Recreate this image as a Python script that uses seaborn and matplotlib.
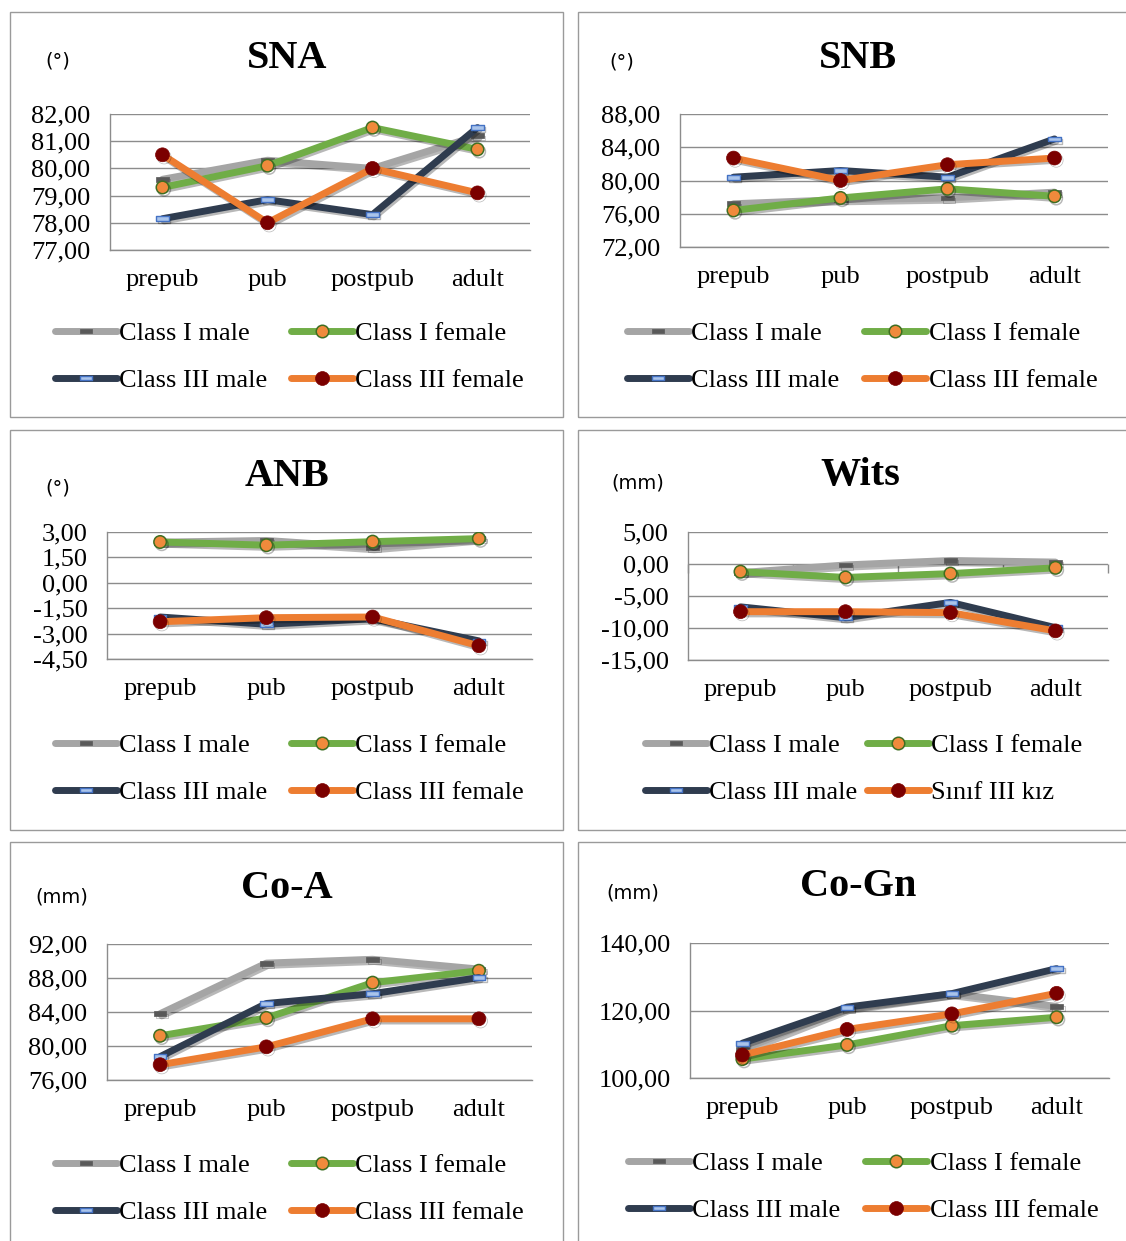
import matplotlib
matplotlib.use("Agg")
import matplotlib.pyplot as plt
import matplotlib.patheffects as pe
from matplotlib.lines import Line2D
from matplotlib.patches import Rectangle
from matplotlib.ticker import FuncFormatter
import seaborn as sns
import pandas as pd

# ---- data -------------------------------------------------------------
stages = ["prepub", "pub", "postpub", "adult"]
labels = ["Class I male", "Class I female", "Class III male", "Class III female"]
labels_wits = ["Class I male", "Class I female", "Class III male", "Sınıf III kız"]

sna_c1_male = [79.6, 80.3, 80.0, 81.2]
sna_c1_female = [79.3, 80.1, 81.5, 80.7]
sna_c3_male = [78.15, 78.85, 78.3, 81.5]
sna_c3_female = [80.5, 78.0, 80.0, 79.1]
sna_ticks = [77, 78, 79, 80, 81, 82]

snb_c1_male = [77.2, 77.7, 77.9, 78.6]
snb_c1_female = [76.4, 77.9, 79.0, 78.1]
snb_c3_male = [80.4, 81.2, 80.4, 85.0]
snb_c3_female = [82.7, 80.0, 81.9, 82.7]
snb_ticks = [72, 76, 80, 84, 88]

anb_c1_male = [2.40, 2.50, 2.08, 2.60]
anb_c1_female = [2.41, 2.22, 2.43, 2.61]
anb_c3_male = [-2.02, -2.45, -2.12, -3.43]
anb_c3_female = [-2.30, -2.06, -2.02, -3.72]
anb_ticks = [-4.5, -3.0, -1.5, 0.0, 1.5, 3.0]

wits_c1_male = [-1.35, -0.15, 0.55, 0.3]
wits_c1_female = [-1.2, -2.1, -1.5, -0.6]
wits_c3_male = [-6.7, -8.4, -6.0, -9.95]
wits_c3_female = [-7.45, -7.45, -7.6, -10.45]
wits_ticks = [-15, -10, -5, 0, 5]

coa_c1_male = [83.8, 89.75, 90.2, 89.05]
coa_c1_female = [81.2, 83.3, 87.45, 88.85]
coa_c3_male = [78.75, 85.0, 86.15, 88.05]
coa_c3_female = [77.8, 79.9, 83.2, 83.2]
coa_ticks = [76, 80, 84, 88, 92]

cogn_c1_male = [108.5, 120.6, 125.0, 121.2]
cogn_c1_female = [105.6, 109.8, 115.5, 118.0]
cogn_c3_male = [110.3, 121.0, 125.0, 132.4]
cogn_c3_female = [106.8, 114.4, 119.0, 125.1]
cogn_ticks = [100, 120, 140]

# ---- styling ----------------------------------------------------------
W, H = 1126, 1241
sns.set_theme(style="white")
plt.rcParams["font.family"] = ["Liberation Serif", "DejaVu Serif"]
plt.rcParams["text.color"] = "black"
plt.rcParams["xtick.labelcolor"] = "black"
plt.rcParams["ytick.labelcolor"] = "black"

GRID = "#8c8c8c"
BOX = "#9a9a9a"
rect_marker = [(-1, -0.38), (1, -0.38), (1, 0.38), (-1, 0.38), (-1, -0.38)]

series_style = [
    dict(color="#a5a5a5", marker=rect_marker, ms=9, mfc="#595959", mec="#595959", mew=0.5),
    dict(color="#70ad47", marker="o", ms=9, mfc="#f08a3c", mec="#3f6e22", mew=1.1),
    dict(color="#2f3c4f", marker=rect_marker, ms=9, mfc="#a9c4eb", mec="#4472c4", mew=1.0),
    dict(color="#ed7d31", marker="o", ms=10, mfc="#7b0000", mec="#7b0000", mew=0.5),
]

shadow = [pe.SimpleLineShadow(offset=(1.2, -1.6), shadow_color="black", alpha=0.28),
          pe.Normal()]

panels = [
    dict(title="SNA", unit="(°)", data=[sna_c1_male, sna_c1_female, sna_c3_male, sna_c3_female],
         ticks=sna_ticks, names=labels, box=(10, 12, 563, 417), plot=(110, 114, 530, 250),
         tpos=(287, 58), upos=(58, 61), leg=(55, 322), colsp=0.9, xticks="bottom"),
    dict(title="SNB", unit="(°)", data=[snb_c1_male, snb_c1_female, snb_c3_male, snb_c3_female],
         ticks=snb_ticks, names=labels, box=(578, 12, 1130, 417), plot=(680, 114, 1108, 247),
         tpos=(858, 58), upos=(622, 62), leg=(627, 322), colsp=0.95, xticks=None),
    dict(title="ANB", unit="(°)", data=[anb_c1_male, anb_c1_female, anb_c3_male, anb_c3_female],
         ticks=anb_ticks, names=labels, box=(10, 430, 563, 830), plot=(107, 532, 532, 659),
         tpos=(287, 476), upos=(58, 488), leg=(55, 734), colsp=0.9, xticks=None),
    dict(title="Wits", unit="(mm)", data=[wits_c1_male, wits_c1_female, wits_c3_male, wits_c3_female],
         ticks=wits_ticks, names=labels_wits, box=(578, 430, 1130, 830), plot=(688, 532, 1108, 660),
         tpos=(860, 476), upos=(638, 483), leg=(645, 734), colsp=0.35, xticks="zero"),
    dict(title="Co-A", unit="(mm)", data=[coa_c1_male, coa_c1_female, coa_c3_male, coa_c3_female],
         ticks=coa_ticks, names=labels, box=(10, 842, 563, 1250), plot=(107, 944, 532, 1080),
         tpos=(287, 888), upos=(62, 897), leg=(55, 1154), colsp=0.9, xticks="bottom"),
    dict(title="Co-Gn", unit="(mm)", data=[cogn_c1_male, cogn_c1_female, cogn_c3_male, cogn_c3_female],
         ticks=cogn_ticks, names=labels, box=(578, 842, 1130, 1250), plot=(690, 943, 1109, 1078),
         tpos=(858, 887), upos=(633, 893), leg=(628, 1152), colsp=0.95, xticks="bottom"),
]


def fx(x):
    return x / W


def fy(y):
    return 1 - y / H


def comma(v, _pos=None):
    return f"{v:.2f}".replace(".", ",")


fig = plt.figure(figsize=(W / 100, H / 100), dpi=100)
fig.patch.set_facecolor("white")

edges = [-0.5, 0.5, 1.5, 2.5, 3.5]

for p in panels:
    x0, y0, x1, y1 = p["box"]
    fig.patches.append(Rectangle((fx(x0), fy(y1)), fx(x1 - x0), (y1 - y0) / H,
                                 transform=fig.transFigure, fill=False,
                                 edgecolor=BOX, lw=1.0, zorder=0))
    px0, py0, px1, py1 = p["plot"]
    ax = fig.add_axes([fx(px0), fy(py1), fx(px1 - px0), (py1 - py0) / H])
    ax.set_facecolor("none")

    for vals, st, name in zip(p["data"], series_style, p["names"]):
        df = pd.DataFrame({"stage": stages, "value": vals})
        sns.lineplot(data=df, x="stage", y="value", ax=ax, sort=False, errorbar=None,
                     lw=5, solid_joinstyle="round", solid_capstyle="round",
                     path_effects=shadow, label=name, **st)

    ax.set_xlim(-0.5, 3.5)
    ax.set_ylim(p["ticks"][0], p["ticks"][-1])
    ax.set_yticks(p["ticks"])
    ax.yaxis.set_major_formatter(FuncFormatter(comma))
    ax.set_xlabel("")
    ax.set_ylabel("")
    ax.yaxis.grid(True, color=GRID, lw=1.0)
    ax.set_axisbelow(True)
    for s in ("top", "right"):
        ax.spines[s].set_visible(False)
    for s in ("left", "bottom"):
        ax.spines[s].set_color(GRID)
        ax.spines[s].set_linewidth(1.0)
    ax.tick_params(axis="y", length=0, pad=14, labelsize=19, labelcolor="black")
    ax.tick_params(axis="x", which="major", length=0, pad=14, labelsize=19, labelcolor="black")
    if p["xticks"] == "bottom":
        ax.set_xticks(edges, minor=True)
        ax.tick_params(axis="x", which="minor", length=9, width=1.0, color=GRID, direction="out")
    elif p["xticks"] == "zero":
        span = p["ticks"][-1] - p["ticks"][0]
        ax.vlines(edges, -0.07 * span, 0, color=GRID, lw=1.0, clip_on=False, zorder=1)

    # legend in two rows under the plot area
    handles = []
    for st, name in zip(series_style, p["names"]):
        handles.append(Line2D([], [], lw=5, solid_capstyle="round", label=name, **st))
    order = [0, 2, 1, 3]
    lx, ly = p["leg"]
    ax.legend(handles=[handles[i] for i in order], labels=[p["names"][i] for i in order],
              ncol=2, loc="upper left", bbox_to_anchor=(fx(lx), fy(ly)),
              bbox_transform=fig.transFigure, frameon=False, fontsize=19,
              handlelength=2.35, handletextpad=0.08, columnspacing=p["colsp"],
              labelspacing=0.88, borderpad=0, borderaxespad=0, numpoints=1,
              labelcolor="black")

    fig.text(fx(p["tpos"][0]), fy(p["tpos"][1]), p["title"], ha="center", va="center",
             fontsize=29, fontweight="bold", color="black")
    fig.text(fx(p["upos"][0]), fy(p["upos"][1]), p["unit"], ha="center", va="center",
             fontsize=14, family=["DejaVu Sans"], color="black")

fig.savefig("out.png", dpi=100, facecolor="white")
